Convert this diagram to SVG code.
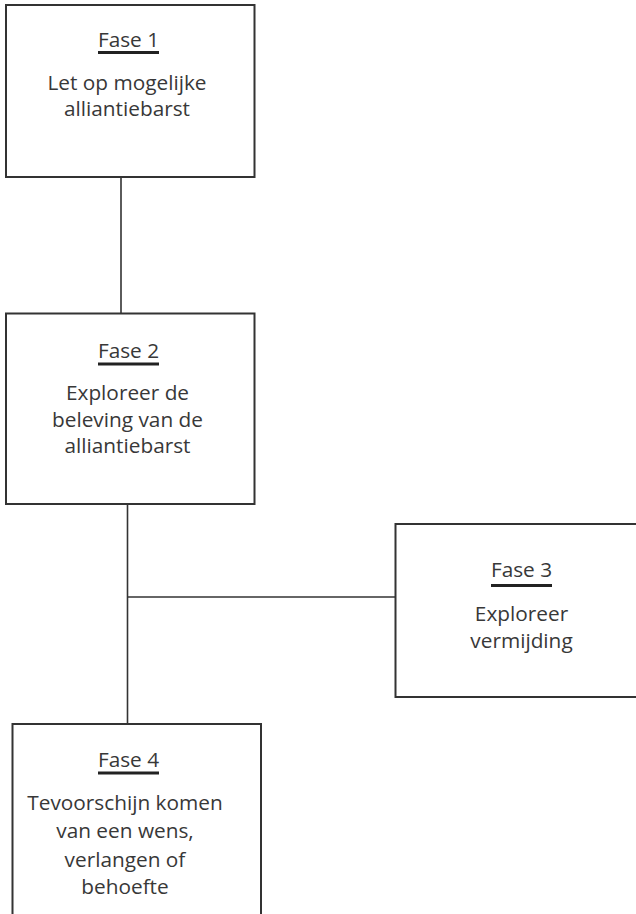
<svg xmlns="http://www.w3.org/2000/svg" width="636" height="914" viewBox="0 0 636 914">
<style>
.box{fill:#fff;stroke:#333;stroke-width:2}
.con{stroke:#333;stroke-width:1.6;fill:none}
.t{font-family:"Open Sans","Noto Sans",sans-serif;font-size:20.8px;fill:#383838;text-anchor:middle}
.ul{stroke:#222;stroke-width:3}
</style>
<rect width="636" height="914" fill="#fff"/>
<g id="connectors">
<line class="con" x1="121" y1="177" x2="121" y2="314"/>
<line class="con" x1="127.5" y1="504" x2="127.5" y2="724"/>
<line class="con" x1="127.5" y1="597" x2="395.5" y2="597"/>
</g>
<g id="fase1">
<rect class="box" x="6" y="5" width="248.5" height="172"/>
<text class="t" x="128.5" y="47">Fase 1</text>
<line class="ul" x1="98" y1="52.5" x2="159" y2="52.5"/>
<text class="t" x="127" y="90">Let op mogelijke</text>
<text class="t" x="127" y="116">alliantiebarst</text>
</g>
<g id="fase2">
<rect class="box" x="6" y="313.5" width="248.5" height="190.5"/>
<text class="t" x="128.5" y="358">Fase 2</text>
<line class="ul" x1="98" y1="364" x2="159" y2="364"/>
<text class="t" x="127.5" y="400">Exploreer de</text>
<text class="t" x="127.5" y="427">beleving van de</text>
<text class="t" x="127.5" y="453">alliantiebarst</text>
</g>
<g id="fase3">
<rect class="box" x="395.5" y="524" width="250" height="173"/>
<text class="t" x="521.5" y="577">Fase 3</text>
<line class="ul" x1="491" y1="585.5" x2="552" y2="585.5"/>
<text class="t" x="521.5" y="621">Exploreer</text>
<text class="t" x="521.5" y="648">vermijding</text>
</g>
<g id="fase4">
<rect class="box" x="12.5" y="724" width="248.5" height="200"/>
<text class="t" x="128.5" y="767">Fase 4</text>
<line class="ul" x1="98" y1="773" x2="159" y2="773"/>
<text class="t" x="125" y="810">Tevoorschijn komen</text>
<text class="t" x="125" y="838">van een wens,</text>
<text class="t" x="125" y="867">verlangen of</text>
<text class="t" x="125" y="894">behoefte</text>
</g>
</svg>
